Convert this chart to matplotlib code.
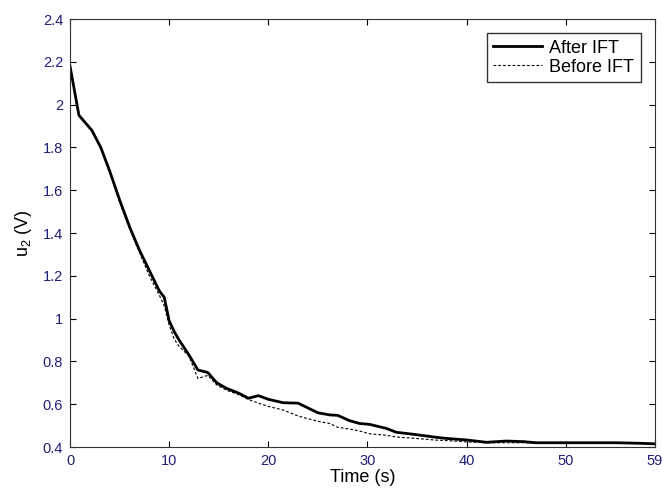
#!/usr/bin/env python3
"""Control signal u2 before and after IFT tuning."""

import matplotlib
matplotlib.use("Agg")
import matplotlib.pyplot as plt
from matplotlib.ticker import FuncFormatter

plt.rcParams["font.family"] = ["Liberation Sans", "DejaVu Sans"]
plt.rcParams["mathtext.fontset"] = "custom"
plt.rcParams["mathtext.rm"] = "Liberation Sans"
plt.rcParams["mathtext.it"] = "Liberation Sans"

time_s = [0, 0.9, 2.2, 3.1, 4, 5, 6, 7, 8, 9, 9.5, 10, 10.5, 11, 12, 12.9,
          13.9, 14.8, 15.8, 17, 18, 19, 20, 21.5, 23, 25, 26.2, 27, 28.2,
          29.2, 30.2, 31.9, 32.9, 34.9, 37, 38, 40, 42, 44, 45.8, 47, 50,
          55, 57, 59]
after_ift = [2.18, 1.95, 1.88, 1.80, 1.69, 1.555, 1.43, 1.32, 1.225, 1.13,
             1.10, 0.99, 0.94, 0.90, 0.83, 0.76, 0.748, 0.70, 0.674, 0.652,
             0.628, 0.64, 0.623, 0.607, 0.605, 0.56, 0.55, 0.548, 0.523,
             0.51, 0.506, 0.487, 0.469, 0.458, 0.445, 0.44, 0.433, 0.422,
             0.428, 0.425, 0.42, 0.42, 0.42, 0.418, 0.415]
before_ift = [2.18, 1.95, 1.88, 1.80, 1.685, 1.545, 1.42, 1.31, 1.20, 1.11,
              1.06, 0.97, 0.905, 0.87, 0.825, 0.72, 0.735, 0.69, 0.665,
              0.645, 0.622, 0.605, 0.59, 0.573, 0.545, 0.52, 0.51, 0.492,
              0.484, 0.475, 0.462, 0.455, 0.447, 0.44, 0.432, 0.43, 0.424,
              0.42, 0.42, 0.42, 0.418, 0.418, 0.418, 0.418, 0.415]

x_ticks = [0, 10, 20, 30, 40, 50, 59]
y_ticks = [0.4, 0.6, 0.8, 1.0, 1.2, 1.4, 1.6, 1.8, 2.0, 2.2, 2.4]

TICK_COLOR = "#1f1f78"

fig = plt.figure(figsize=(6.63, 4.94), dpi=100)
ax = fig.add_axes([0.1056, 0.0951, 0.8823, 0.8664])

ax.plot(time_s, after_ift, color="black", lw=2.0, label="After IFT")
ax.plot(time_s, before_ift, color="black", lw=0.8, dashes=(2.5, 1.8),
        label="Before IFT")

ax.set_xlim(0, 59)
ax.set_ylim(0.4, 2.4)
ax.set_xticks(x_ticks)
ax.set_yticks(y_ticks)
ax.yaxis.set_major_formatter(FuncFormatter(lambda v, _: f"{v:g}"))
ax.tick_params(direction="in", top=True, right=True, length=4,
               labelsize=10.5, labelcolor=TICK_COLOR, width=0.8)
ax.tick_params(axis="x", pad=5)
ax.tick_params(axis="y", pad=5)
for spine in ax.spines.values():
    spine.set_linewidth(0.8)
    spine.set_color("#333333")

ax.set_xlabel("Time (s)", fontsize=13, labelpad=1)
ax.set_ylabel(r"u$_2$ (V)", fontsize=13, labelpad=6)

ax.legend(loc="upper right", fontsize=13, frameon=True, fancybox=False,
          edgecolor="black", handlelength=2.7, borderaxespad=0.8,
          labelspacing=0.1, handletextpad=0.4, borderpad=0.35)

fig.savefig("out.png", dpi=100, facecolor="white")
plt.close(fig)
